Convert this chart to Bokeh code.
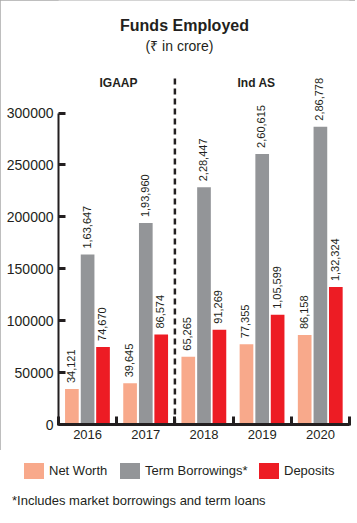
import math
from bokeh.plotting import figure
from bokeh.layouts import column
from bokeh.models import (ColumnDataSource, FixedTicker, Label, Div,
                          Range1d, BasicTickFormatter)
from bokeh.core.properties import value
from bokeh.embed import file_html
from bokeh.resources import INLINE

# ---- data ----
years = ["2016", "2017", "2018", "2019", "2020"]
net_worth = [34121, 39645, 65265, 77355, 86158]
term_borrowings = [163647, 193960, 228447, 260615, 286778]
deposits = [74670, 86574, 91269, 105599, 132324]
y_ticks = [0, 50000, 100000, 150000, 200000, 250000, 300000]
series_names = ["Net Worth", "Term Borrowings*", "Deposits"]
colors = ["#F8A98B", "#939598", "#ED1C24"]
section_labels = ["IGAAP", "Ind AS"]
title_text = "Funds Employed"
subtitle_text = "(\u20b9 in crore)"
footnote_text = "*Includes market borrowings and term loans"

FONT = "Liberation Sans"
TXT = "#231F20"


def indian(n):
    s = str(int(n))
    if len(s) <= 3:
        return s
    last3, rest = s[-3:], s[:-3]
    parts = []
    while len(rest) > 2:
        parts.insert(0, rest[-2:])
        rest = rest[:-2]
    if rest:
        parts.insert(0, rest)
    return ",".join(parts) + "," + last3


W, H = 355, 522
H1 = 450                            # main chart height
H2 = H - H1                         # legend / footnote strip
FL, FR, FB = 58, 349, 424           # frame edges in px
PX_PER_UNIT = 311.5 / 300000.0
y_end = FB / PX_PER_UNIT

p = figure(width=W, height=H1, x_range=Range1d(0, 5), y_range=Range1d(0, y_end),
           output_backend="svg", toolbar_location=None,
           min_border_left=FL, min_border_right=W - FR, min_border_top=0,
           min_border_bottom=H1 - FB)
p.outline_line_color = None
p.xgrid.grid_line_color = None
p.ygrid.grid_line_color = None
p.background_fill_color = "white"
p.border_fill_color = "white"

offsets = [-0.27, 0.0, 0.265]
series = [net_worth, term_borrowings, deposits]
for k, (vals, col) in enumerate(zip(series, colors)):
    src = ColumnDataSource(dict(x=[i + 0.5 + offsets[k] for i in range(len(years))],
                                top=vals, lab=[indian(v) for v in vals]))
    p.vbar(x="x", top="top", width=0.235, bottom=0, source=src,
           fill_color=col, line_color=None)
    p.text(x="x", y="top", text="lab", source=src, angle=math.pi / 2,
           text_align="left", text_baseline="middle", y_offset=-6, x_offset=-1,
           text_font=value(FONT), text_font_size="11px", text_color=TXT)

# separator between IGAAP and Ind AS
sep_top = (FB - 75) / PX_PER_UNIT
p.segment(x0=[2], y0=[0], x1=[2], y1=[sep_top], line_color=TXT,
          line_width=2.5, line_dash="6 4")

# axes
yax = p.yaxis[0]
yax.ticker = FixedTicker(ticks=y_ticks, minor_ticks=[])
yax.bounds = (0, 300000)
yax.formatter = BasicTickFormatter(use_scientific=False)
yax.major_tick_in = 7
yax.major_tick_out = 0
yax.minor_tick_in = 0
yax.minor_tick_out = 0
yax.major_tick_line_width = 3
yax.major_tick_line_color = TXT
yax.axis_line_width = 2
yax.axis_line_color = TXT
yax.major_label_text_font = FONT
yax.major_label_text_font_size = "14px"
yax.major_label_text_color = TXT
yax.major_label_standoff = 5

xax = p.xaxis[0]
xax.ticker = FixedTicker(ticks=[i + 0.5 for i in range(len(years))],
                         minor_ticks=list(range(len(years) + 1)))
xax.major_label_overrides = {i + 0.5: y for i, y in enumerate(years)}
xax.major_tick_line_color = None
xax.major_tick_in = 0
xax.major_tick_out = 0
xax.minor_tick_in = 8
xax.minor_tick_out = 1
xax.minor_tick_line_width = 3
xax.minor_tick_line_color = TXT
xax.axis_line_width = 3
xax.axis_line_color = TXT
xax.major_label_text_font = FONT
xax.major_label_text_font_size = "13px"
xax.major_label_text_color = TXT
xax.major_label_standoff = 4


def add_label(fig, text, x, y, size, bold=False, align="center"):
    fig.add_layout(Label(x=x, y=y, x_units="screen", y_units="screen",
                         text=text, text_font=FONT, text_font_size=size,
                         text_font_style="bold" if bold else "normal",
                         text_color=TXT, text_align=align, text_baseline="middle"))


# labels (screen coords relative to frame bottom-left)
add_label(p, title_text, 184 - FL, FB - 25, "16px", bold=True)
add_label(p, subtitle_text, 179 - FL, FB - 45, "14px")
add_label(p, section_labels[0], 118 - FL, FB - 82, "12px", bold=True)
add_label(p, section_labels[1], 256 - FL, FB - 82, "12px", bold=True)

# ---- legend / footnote strip ----
swatch_left = [24, 120, 259]
pieces = []
for name, col, sl in zip(series_names, colors, swatch_left):
    pieces.append(
        f'<div style="position:absolute;left:{sl}px;top:{463 - H1}px;width:20px;'
        f'height:16px;background:{col};"></div>'
        f'<div style="position:absolute;left:{sl + 25}px;top:{463 - H1}px;'
        f'line-height:16px;font-size:13px;white-space:nowrap;">{name}</div>')
pieces.append(
    f'<div style="position:absolute;left:12px;top:{501 - H1 - 8}px;line-height:16px;'
    f'font-size:13px;white-space:nowrap;">{footnote_text}</div>')
html = (f'<div style="position:relative;width:{W}px;height:{H2}px;'
        f'font-family:\'{FONT}\';color:{TXT};">' + "".join(pieces) + '</div>')
strip = Div(text=html, width=W, height=H2, margin=0,
            styles={"background": "white"})

layout = column(p, strip, spacing=0)
layout.styles = {"outline": "1px solid #A8A8A8", "outline-offset": "-1px"}

open("out.html", "w").write(file_html(layout, INLINE))
